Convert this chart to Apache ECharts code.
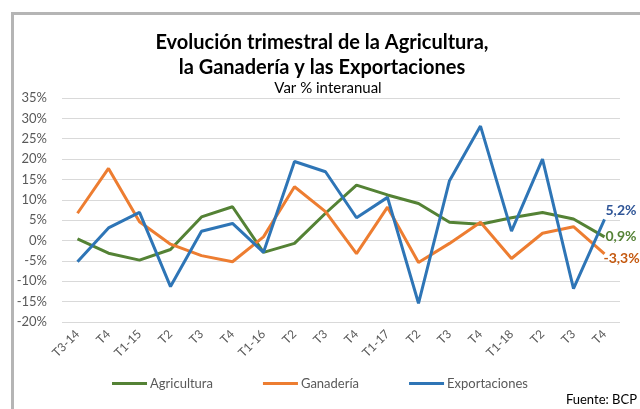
<!DOCTYPE html>
<html>
<head>
<meta charset="utf-8">
<script src="https://cdn.jsdelivr.net/npm/echarts@6/dist/echarts.min.js"></script>
<style>
  html, body { margin: 0; padding: 0; background: #fff; }
  #main { width: 640px; height: 409px; }
</style>
</head>
<body>
<div id="main"></div>
<script>
// trimestres
const categories = ['T3-14', 'T4', 'T1-15', 'T2', 'T3', 'T4', 'T1-16', 'T2', 'T3', 'T4',
  'T1-17', 'T2', 'T3', 'T4', 'T1-18', 'T2', 'T3', 'T4'];

// var % interanual
const agricultura = [0.4, -3.1, -4.8, -2.2, 5.8, 8.3, -2.9, -0.7, 6.7, 13.6,
  11.2, 9.1, 4.5, 4.0, 5.6, 6.9, 5.3, 0.9];
const ganaderia = [6.7, 17.7, 4.6, -0.9, -3.7, -5.2, 0.9, 13.2, 7.1, -3.2,
  8.2, -5.4, -0.7, 4.5, -4.4, 1.8, 3.4, -3.3];
const exportaciones = [-5.2, 3.1, 6.9, -11.3, 2.3, 4.2, -2.9, 19.4, 16.9, 5.6,
  10.6, -15.4, 14.7, 28.1, 2.3, 20.0, -11.8, 5.2];

const yTicks = { min: -20, max: 35, step: 5 };

const FONT = 'Lato, "Open Sans", sans-serif';

function fmt(v) {
  return v.toFixed(1).replace('.', ',') + '%';
}

// etiqueta al final de cada línea
function endLabel(color, offset) {
  return {
    show: true,
    distance: 1,
    offset: offset,
    formatter: p => fmt(p.value),
    color: color,
    fontWeight: 'bold',
    fontSize: 14,
    fontFamily: FONT
  };
}

const chart = echarts.init(document.getElementById('main'));

chart.setOption({
  animation: false,
  backgroundColor: '#fff',
  textStyle: { fontFamily: FONT },
  graphic: [
    {
      type: 'rect',
      shape: { x: 12.5, y: 13.5, width: 700, height: 500 },
      style: { fill: 'none', stroke: '#b5b5b5', lineWidth: 3 },
      silent: true
    },
    {
      type: 'text',
      x: 322,
      y: 30,
      style: {
        text: 'Evolución trimestral de la Agricultura,\nla Ganadería y las Exportaciones',
        align: 'center',
        fontSize: 20,
        fontWeight: 'bold',
        lineHeight: 25,
        fill: '#000',
        fontFamily: FONT
      }
    },
    {
      type: 'text',
      x: 328,
      y: 81,
      style: {
        text: 'Var % interanual',
        align: 'center',
        fontSize: 15,
        fill: '#000',
        fontFamily: FONT
      }
    },
    {
      type: 'text',
      x: 637,
      y: 393,
      style: {
        text: 'Fuente: BCP',
        align: 'right',
        fontSize: 13,
        fill: '#000',
        fontFamily: FONT
      }
    }
  ],
  legend: {
    bottom: 14,
    left: 'center',
    icon: 'rect',
    itemWidth: 35,
    itemHeight: 3,
    itemGap: 50,
    textStyle: { color: '#595959', fontSize: 13, fontFamily: FONT, padding: [0, 0, 0, -2] },
    data: ['Agricultura', 'Ganadería', 'Exportaciones']
  },
  grid: { left: 62, right: 20, top: 98, bottom: 87 },
  xAxis: {
    type: 'category',
    data: categories,
    boundaryGap: true,
    axisLine: { show: false },
    axisTick: { show: false },
    axisLabel: {
      rotate: 45,
      margin: 10,
      interval: 0,
      color: '#595959',
      fontSize: 12,
      fontFamily: FONT
    }
  },
  yAxis: {
    type: 'value',
    min: yTicks.min,
    max: yTicks.max,
    interval: yTicks.step,
    axisLine: { show: false },
    axisTick: { show: false },
    splitLine: { lineStyle: { color: '#d9d9d9', width: 1 } },
    axisLabel: {
      formatter: '{value}%',
      color: '#595959',
      fontSize: 13,
      margin: 15,
      fontFamily: FONT
    }
  },
  series: [
    {
      name: 'Agricultura',
      type: 'line',
      data: agricultura,
      symbol: 'none',
      color: '#548235',
      lineStyle: { width: 3, color: '#548235' },
      endLabel: endLabel('#548235', [0, 0])
    },
    {
      name: 'Ganadería',
      type: 'line',
      data: ganaderia,
      symbol: 'none',
      color: '#ED7D31',
      lineStyle: { width: 3, color: '#ED7D31' },
      endLabel: endLabel('#C55A11', [-2, 4])
    },
    {
      name: 'Exportaciones',
      type: 'line',
      data: exportaciones,
      symbol: 'none',
      color: '#2E75B6',
      lineStyle: { width: 3, color: '#2E75B6' },
      endLabel: endLabel('#2F5597', [0, -9])
    }
  ]
});
</script>
</body>
</html>
